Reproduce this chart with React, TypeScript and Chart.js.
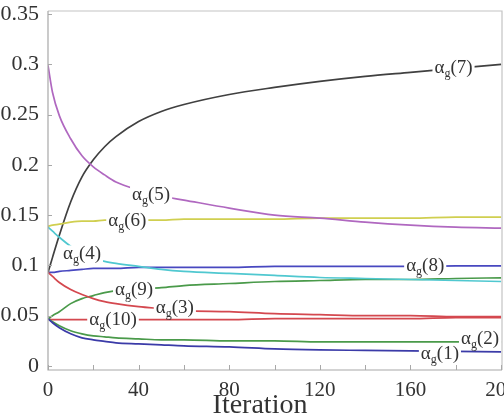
import { useEffect, useRef } from 'react';
import { Chart, registerables } from 'chart.js';

Chart.register(...registerables);

const iterations = [0, 2, 5, 10, 15, 20, 25, 30, 40, 50, 60, 80, 100, 120, 140, 160, 180, 200];

const alpha1 = [0.047, 0.043, 0.038, 0.032, 0.028, 0.026, 0.0245, 0.023, 0.022, 0.021, 0.020, 0.019, 0.017, 0.016, 0.0155, 0.015, 0.0145, 0.014];
const alpha2 = [0.047, 0.044, 0.040, 0.035, 0.032, 0.030, 0.029, 0.028, 0.027, 0.026, 0.026, 0.025, 0.025, 0.024, 0.024, 0.024, 0.024, 0.024];
const alpha3 = [0.093, 0.089, 0.083, 0.076, 0.071, 0.067, 0.064, 0.062, 0.059, 0.057, 0.055, 0.054, 0.052, 0.051, 0.050, 0.050, 0.049, 0.049];
const alpha4 = [0.138, 0.134, 0.128, 0.119, 0.112, 0.107, 0.104, 0.102, 0.099, 0.096, 0.094, 0.092, 0.090, 0.088, 0.087, 0.086, 0.085, 0.084];
const alpha5 = [0.299, 0.272, 0.249, 0.226, 0.209, 0.198, 0.190, 0.183, 0.175, 0.169, 0.165, 0.157, 0.150, 0.147, 0.143, 0.140, 0.138, 0.137];
const alpha6 = [0.139, 0.140, 0.141, 0.143, 0.144, 0.144, 0.145, 0.145, 0.145, 0.145, 0.146, 0.146, 0.146, 0.147, 0.147, 0.147, 0.148, 0.148];
const alpha7 = [0.093, 0.108, 0.130, 0.163, 0.188, 0.205, 0.218, 0.228, 0.243, 0.253, 0.260, 0.270, 0.277, 0.283, 0.288, 0.292, 0.296, 0.300];
const alpha8 = [0.093, 0.093, 0.094, 0.095, 0.096, 0.097, 0.097, 0.097, 0.098, 0.098, 0.098, 0.098, 0.099, 0.099, 0.099, 0.099, 0.0995, 0.0995];
const alpha9 = [0.047, 0.050, 0.054, 0.062, 0.067, 0.070, 0.073, 0.075, 0.077, 0.078, 0.080, 0.082, 0.084, 0.085, 0.086, 0.086, 0.087, 0.0877];
const alpha10 = [0.047, 0.046, 0.046, 0.046, 0.046, 0.046, 0.046, 0.046, 0.046, 0.046, 0.046, 0.046, 0.047, 0.047, 0.047, 0.047, 0.048, 0.048];

const seriesValues = [alpha1, alpha2, alpha3, alpha4, alpha5, alpha6, alpha7, alpha8, alpha9, alpha10];
const seriesNames = ['1', '2', '3', '4', '5', '6', '7', '8', '9', '10'];
const seriesColors = ['#3b3ba8', '#4a9a4a', '#d4484f', '#50c8d0', '#b068c0', '#d0cf50', '#404040', '#4848c0', '#4a9a4a', '#d4484f'];

// label anchor positions in data space: [iteration, value]
const labelIter = [173, 190.7, 56, 15, 45.5, 35, 179, 166.5, 38, 28.7];
const labelValue = [0.012, 0.027, 0.058, 0.111, 0.170, 0.144, 0.296, 0.0996, 0.0757, 0.046];

const xTickValues = [0, 20, 40, 60, 80, 100, 120, 140, 160, 180, 200];
const yTickValues = [0, 0.05, 0.1, 0.15, 0.2, 0.25, 0.3, 0.35];

const SERIF = '"Liberation Serif", "DejaVu Serif", serif';

const decorPlugin = {
  id: 'decor',
  afterDatasetsDraw(chart: any) {
    const ctx = chart.ctx;
    const xs = chart.scales.x;
    const ys = chart.scales.y;
    ctx.save();
    for (let i = 0; i < seriesNames.length; i++) {
      const px = xs.getPixelForValue(labelIter[i]);
      const py = ys.getPixelForValue(labelValue[i]);
      const main = `19px ${SERIF}`;
      const sub = `12px ${SERIF}`;
      ctx.font = main;
      const wA = ctx.measureText('\u03b1').width;
      const paren = `(${seriesNames[i]})`;
      const wP = ctx.measureText(paren).width;
      ctx.font = sub;
      const wG = ctx.measureText('g').width;
      const total = wA + wG + wP;
      const left = px - total / 2;
      ctx.fillStyle = '#ffffff';
      ctx.fillRect(left - 2, py - 9, total + 4, 19);
      ctx.fillStyle = '#333333';
      ctx.textBaseline = 'alphabetic';
      ctx.textAlign = 'left';
      const base = py + 5;
      ctx.font = main;
      ctx.fillText('\u03b1', left, base);
      ctx.font = sub;
      ctx.fillText('g', left + wA, base + 4);
      ctx.font = main;
      ctx.fillText(paren, left + wA + wG, base);
    }
    ctx.restore();
  },
  afterDraw(chart: any) {
    const ctx = chart.ctx;
    const { left, right, top, bottom } = chart.chartArea;
    const xs = chart.scales.x;
    const ys = chart.scales.y;
    ctx.save();
    ctx.lineWidth = 1.2;
    ctx.strokeStyle = '#c4c4c4';
    ctx.beginPath();
    ctx.moveTo(left, top);
    ctx.lineTo(right, top);
    ctx.lineTo(right, bottom);
    ctx.stroke();
    ctx.strokeStyle = '#a8a8a8';
    ctx.beginPath();
    ctx.moveTo(left, top);
    ctx.lineTo(left, bottom);
    ctx.lineTo(right, bottom);
    ctx.stroke();
    ctx.strokeStyle = '#a8a8a8';
    ctx.lineWidth = 1;
    ctx.beginPath();
    for (const v of xTickValues) {
      const px = Math.round(xs.getPixelForValue(v)) + 0.5;
      ctx.moveTo(px, bottom);
      ctx.lineTo(px, bottom - 5);
    }
    for (const v of yTickValues) {
      const py = Math.round(ys.getPixelForValue(v)) + 0.5;
      ctx.moveTo(left, py);
      ctx.lineTo(left + 4, py);
    }
    ctx.stroke();
    ctx.fillStyle = '#333333';
    ctx.font = `28px ${SERIF}`;
    ctx.textAlign = 'center';
    ctx.textBaseline = 'alphabetic';
    ctx.fillText('Iteration', (left + right) / 2 - 15, 413);
    ctx.restore();
  },
};

export default function App() {
  const canvasRef = useRef<HTMLCanvasElement | null>(null);

  useEffect(() => {
    if (!canvasRef.current) return;
    const datasets = seriesValues.map((vals, i) => ({
      label: 'alpha_g(' + seriesNames[i] + ')',
      data: iterations.map((it, j) => ({ x: it, y: vals[j] })),
      borderColor: seriesColors[i],
      backgroundColor: seriesColors[i],
      borderWidth: 1.7,
      pointRadius: 0,
      fill: false,
      cubicInterpolationMode: 'monotone' as const,
    }));
    const chart = new Chart(canvasRef.current, {
      type: 'line',
      data: { datasets },
      options: {
        animation: false,
        responsive: false,
        devicePixelRatio: 1,
        layout: { padding: { top: 11, right: 2, left: 0, bottom: 0 } },
        plugins: { legend: { display: false }, tooltip: { enabled: false }, title: { display: false } },
        scales: {
          x: {
            type: 'linear',
            min: 0,
            max: 200.4,
            afterBuildTicks: (s: any) => {
              s.ticks = xTickValues.map((v) => ({ value: v }));
            },
            afterFit: (s: any) => {
              s.height = 47;
              s.paddingLeft = 0;
              s.paddingRight = 0;
            },
            grid: { display: false },
            border: { display: false },
            ticks: {
              autoSkip: false,
              maxRotation: 0,
              padding: 0,
              color: '#333333',
              font: { family: SERIF, size: 21 },
              callback: (v: any) => (Number(v) % 40 === 0 ? String(v) : ''),
            },
          },
          y: {
            type: 'linear',
            min: -0.004,
            max: 0.353,
            afterBuildTicks: (s: any) => {
              s.ticks = yTickValues.map((v) => ({ value: v }));
            },
            afterFit: (s: any) => {
              s.width = 48;
              s.paddingTop = 0;
              s.paddingBottom = 0;
            },
            grid: { display: false },
            border: { display: false },
            ticks: {
              padding: 1,
              color: '#333333',
              font: { family: SERIF, size: 22 },
              callback: (v: any) => String(Math.round(Number(v) * 100) / 100),
            },
          },
        },
      },
      plugins: [decorPlugin],
    });
    return () => chart.destroy();
  }, []);

  return (
    <div style={{ position: 'fixed', left: 0, top: 0, width: 504, height: 417, background: '#fff' }}>
      <canvas ref={canvasRef} width={504} height={417} style={{ width: 504, height: 417, display: 'block' }} />
    </div>
  );
}
